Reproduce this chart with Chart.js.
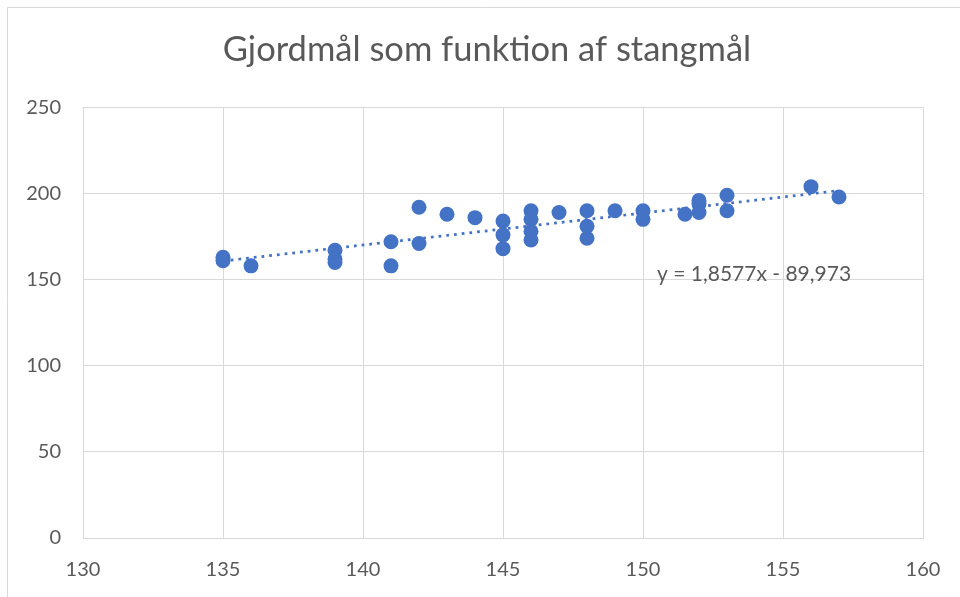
<!DOCTYPE html>
<html>
<head>
<meta charset="utf-8">
<title>Gjordmål som funktion af stangmål</title>
<script src="https://cdn.jsdelivr.net/npm/chart.js@4.4.1/dist/chart.umd.min.js"></script>
<style>
    html, body { margin: 0; padding: 0; background: #ffffff; }
    #wrap { width: 960px; height: 597px; }
</style>
</head>
<body>
<div id="wrap"><canvas id="myChart" width="960" height="597"></canvas></div>
<script>
// data
var chartTitle = 'Gjordmål som funktion af stangmål';
var stangmaal = [135, 135, 136, 139, 139, 139, 141, 141, 142, 142, 143, 144, 145, 145, 145,
                 146, 146, 146, 146, 147, 148, 148, 148, 149, 150, 150, 151.5, 152, 152, 152,
                 153, 153, 156, 157];
var gjordmaal = [163, 161, 158, 167, 162, 160, 172, 158, 192, 171, 188, 186, 184, 176, 168,
                 190, 185, 178, 173, 189, 190, 181, 174, 190, 190, 185, 188, 196, 194, 189,
                 199, 190, 204, 198];
// trendline as shown in the chart
var trendSlope = 1.8577;
var trendIntercept = -89.973;
var trendLabel = 'y = 1,8577x - 89,973';
var xTicks = [130, 135, 140, 145, 150, 155, 160];
var yTicks = [0, 50, 100, 150, 200, 250];

var blue = '#4472c4';
var grey = '#595959';
var gridGrey = '#d9d9d9';
var fontName = 'Lato, "Open Sans", sans-serif';

var points = [];
for (var i = 0; i < stangmaal.length; i++) {
    points.push({ x: stangmaal[i], y: gjordmaal[i] });
}
var xMin = Math.min.apply(null, stangmaal);
var xMax = Math.max.apply(null, stangmaal);
var trendPoints = [
    { x: xMin, y: trendSlope * xMin + trendIntercept },
    { x: xMax, y: trendSlope * xMax + trendIntercept }
];

// frame of the chart box (only top and left are inside the picture)
var framePlugin = {
    id: 'frame',
    beforeDraw: function (chart) {
        var ctx = chart.ctx;
        ctx.save();
        ctx.strokeStyle = gridGrey;
        ctx.lineWidth = 1;
        ctx.beginPath();
        ctx.moveTo(7.5, chart.height);
        ctx.lineTo(7.5, 7.5);
        ctx.lineTo(chart.width, 7.5);
        ctx.stroke();
        ctx.restore();
    }
};

// equation label of the trendline
var equationPlugin = {
    id: 'equation',
    afterDatasetsDraw: function (chart) {
        var ctx = chart.ctx;
        var x = chart.scales.x.getPixelForValue(150.5);
        var y = chart.scales.y.getPixelForValue(153);
        ctx.save();
        ctx.font = '21px ' + fontName;
        ctx.fillStyle = grey;
        ctx.textAlign = 'left';
        ctx.textBaseline = 'middle';
        ctx.fillText(trendLabel, x, y);
        ctx.restore();
    }
};

var ctx = document.getElementById('myChart').getContext('2d');
var chart = new Chart(ctx, {
    type: 'scatter',
    data: {
        datasets: [{
            label: 'Gjordmål',
            data: points,
            backgroundColor: blue,
            borderColor: blue,
            pointRadius: 7.5,
            pointHoverRadius: 7.5,
            borderWidth: 0,
            order: 1
        }, {
            label: 'Tendenslinje',
            type: 'line',
            data: trendPoints,
            borderColor: blue,
            borderWidth: 2.75,
            borderDash: [2.75, 5],
            pointRadius: 0,
            fill: false,
            order: 2
        }]
    },
    options: {
        responsive: false,
        animation: false,
        // left padding so the title is centred like in the reference
        layout: { padding: { left: 14, right: 0, top: 0, bottom: 0 } },
        plugins: {
            legend: { display: false },
            tooltip: { enabled: false },
            title: {
                display: true,
                text: chartTitle,
                color: grey,
                font: { family: fontName, size: 34.5, weight: 'normal', lineHeight: 1.2 },
                padding: { top: 29, bottom: 37 }
            }
        },
        scales: {
            x: {
                type: 'linear',
                min: 130,
                max: 160,
                afterBuildTicks: function (scale) {
                    scale.ticks = xTicks.map(function (v) { return { value: v }; });
                },
                afterFit: function (scale) {
                    scale.height = 59;
                    scale.paddingRight = 37;
                },
                grid: { color: gridGrey, lineWidth: 1, drawTicks: false },
                border: { color: gridGrey },
                ticks: { color: grey, padding: 20, font: { family: fontName, size: 20 } }
            },
            y: {
                type: 'linear',
                min: 0,
                max: 250,
                afterBuildTicks: function (scale) {
                    scale.ticks = yTicks.map(function (v) { return { value: v }; });
                },
                afterFit: function (scale) { scale.width = 69; },
                grid: { color: gridGrey, lineWidth: 1, drawTicks: false },
                border: { display: false },
                ticks: { color: grey, padding: 22, font: { family: fontName, size: 20 } }
            }
        }
    },
    plugins: [framePlugin, equationPlugin]
});
</script>
</body>
</html>
